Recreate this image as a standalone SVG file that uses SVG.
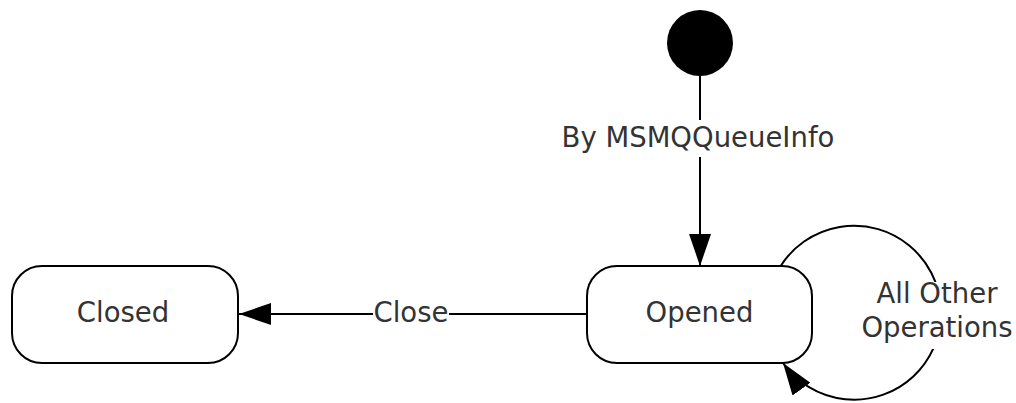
<svg xmlns="http://www.w3.org/2000/svg" width="1016" height="403" viewBox="0 0 1016 403">
  <style>
    .state { fill: #ffffff; stroke: #000000; stroke-width: 2; }
    .edge { fill: none; stroke: #000000; stroke-width: 2; }
    .lbl { font-family: "DejaVu Sans", Verdana, sans-serif; font-size: 27.5px; fill: #333333; text-anchor: middle; }
    .bg { fill: #ffffff; stroke: none; }
  </style>
  <defs>
    <marker id="arrow" markerUnits="userSpaceOnUse" markerWidth="32" markerHeight="22" refX="32" refY="11" orient="auto">
      <path d="M0,0 L32,11 L0,22 z" fill="#000000"/>
    </marker>
  </defs>
  <rect width="1016" height="403" fill="#ffffff"/>
  <g id="connectors">
    <g id="edge-init-opened">
      <line class="edge" x1="700" y1="76" x2="700" y2="266" marker-end="url(#arrow)"/>
      <rect class="bg" x="553" y="120" width="290" height="37"/>
      <text class="lbl" x="698" y="147">By MSMQQueueInfo</text>
    </g>
    <g id="edge-opened-closed">
      <line class="edge" x1="587" y1="314" x2="239" y2="314" marker-end="url(#arrow)"/>
      <rect class="bg" x="373" y="300" width="76" height="28"/>
      <text class="lbl" x="411" y="322">Close</text>
    </g>
    <g id="edge-self">
      <path class="edge" d="M780,267 A87,87 0 1,1 783,363" marker-end="url(#arrow)"/>
      <rect class="bg" x="862" y="282" width="150" height="67"/>
      <text class="lbl" x="937" y="303">All Other</text>
      <text class="lbl" x="937" y="337">Operations</text>
    </g>
  </g>
  <g id="initial">
    <circle cx="700" cy="43" r="33" fill="#000000"/>
  </g>
  <g id="opened">
    <rect class="state" x="587" y="266" width="225" height="97" rx="30" ry="30"/>
    <text class="lbl" x="699.5" y="322">Opened</text>
  </g>
  <g id="closed">
    <rect class="state" x="12" y="266" width="226" height="97" rx="30" ry="30"/>
    <text class="lbl" x="123" y="322">Closed</text>
  </g>
</svg>
